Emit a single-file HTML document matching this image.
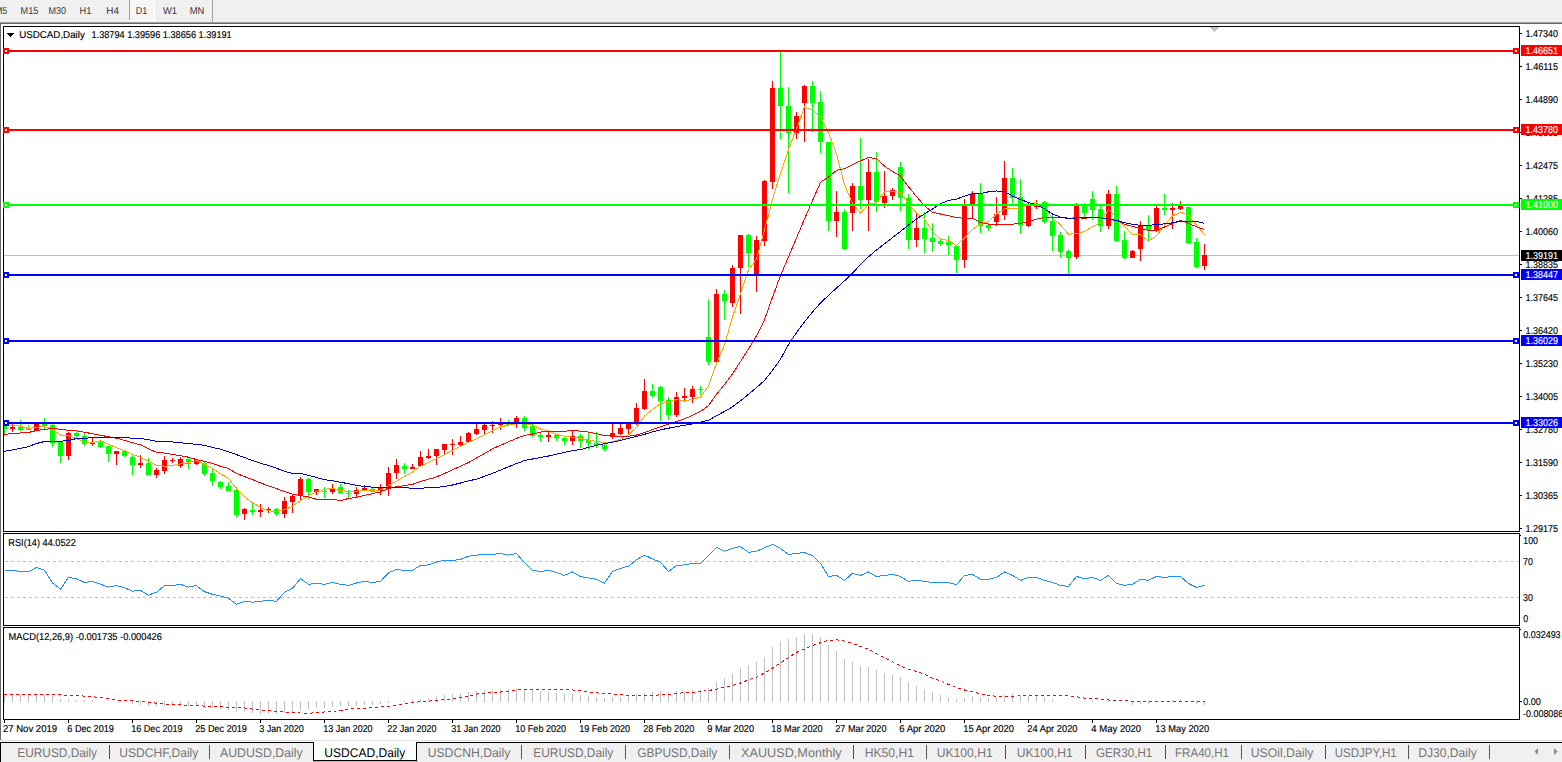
<!DOCTYPE html>
<html><head><meta charset="utf-8"><title>USDCAD,Daily</title>
<style>
html,body{margin:0;padding:0;background:#fff;overflow:hidden}
svg{display:block}
text{font-family:"Liberation Sans",sans-serif;white-space:pre;text-rendering:geometricPrecision}
</style></head><body>
<svg width="1562" height="762" viewBox="0 0 1562 762">
<rect x="0" y="0" width="1562" height="762" fill="#fff"/>
<rect x="0" y="0" width="1562" height="22" fill="#f0f0f0"/>
<rect x="0" y="22" width="1562" height="1" fill="#a0a0a0"/>
<rect x="0" y="23" width="1562" height="1" fill="#696969"/>
<pattern id="ck" width="2" height="2" patternUnits="userSpaceOnUse"><rect width="2" height="2" fill="#f0f0f0"/><rect width="1" height="1" fill="#fff"/><rect x="1" y="1" width="1" height="1" fill="#fff"/></pattern>
<rect x="130" y="0" width="24" height="20" fill="url(#ck)"/>
<rect x="129" y="0" width="1" height="20" fill="#a0a0a0"/>
<rect x="154" y="0" width="1" height="21" fill="#fff"/>
<rect x="130" y="20" width="25" height="1" fill="#fff"/>
<rect x="212" y="0" width="1" height="22" fill="#a0a0a0"/>
<text x="-5" y="14" font-size="10" fill="#333" textLength="12.3" lengthAdjust="spacingAndGlyphs">M5</text>
<text x="20.6" y="14" font-size="10" fill="#333" textLength="17.7" lengthAdjust="spacingAndGlyphs">M15</text>
<text x="48.6" y="14" font-size="10" fill="#333" textLength="17.5" lengthAdjust="spacingAndGlyphs">M30</text>
<text x="79.5" y="14" font-size="10" fill="#333" textLength="11.8" lengthAdjust="spacingAndGlyphs">H1</text>
<text x="106.3" y="14" font-size="10" fill="#333" textLength="12.7" lengthAdjust="spacingAndGlyphs">H4</text>
<text x="135.8" y="14" font-size="10" fill="#333" textLength="11.5" lengthAdjust="spacingAndGlyphs">D1</text>
<text x="163" y="14" font-size="10" fill="#333" textLength="14" lengthAdjust="spacingAndGlyphs">W1</text>
<text x="189.8" y="14" font-size="10" fill="#333" textLength="14.6" lengthAdjust="spacingAndGlyphs">MN</text>
<rect x="0" y="24" width="1" height="717" fill="#696969"/>
<rect x="0" y="740" width="1562" height="1" fill="#e3e3e3"/>
<rect x="0" y="742" width="1562" height="20" fill="#f0f0f0"/>
<rect x="0" y="742" width="1562" height="1" fill="#000"/>
<rect x="0" y="742" width="1" height="20" fill="#000"/>
<rect x="313" y="742" width="104" height="19" fill="#fff"/>
<rect x="313" y="742" width="1" height="19" fill="#000"/>
<rect x="416" y="742" width="1" height="19" fill="#000"/>
<rect x="313" y="760" width="104" height="1" fill="#000"/>
<rect x="313" y="761" width="105" height="1" fill="#b4b4b4"/>
<rect x="314" y="742" width="102" height="1" fill="#fff"/>
<text x="17.3" y="757" font-size="12.6" fill="#747474" textLength="79.7" lengthAdjust="spacingAndGlyphs">EURUSD,Daily</text>
<text x="119.3" y="757" font-size="12.6" fill="#747474" textLength="79.0" lengthAdjust="spacingAndGlyphs">USDCHF,Daily</text>
<text x="220" y="757" font-size="12.6" fill="#747474" textLength="82.7" lengthAdjust="spacingAndGlyphs">AUDUSD,Daily</text>
<text x="324.3" y="757" font-size="12.6" fill="#000" textLength="81.0" lengthAdjust="spacingAndGlyphs">USDCAD,Daily</text>
<text x="427.7" y="757" font-size="12.6" fill="#747474" textLength="82.6" lengthAdjust="spacingAndGlyphs">USDCNH,Daily</text>
<text x="533.3" y="757" font-size="12.6" fill="#747474" textLength="80.0" lengthAdjust="spacingAndGlyphs">EURUSD,Daily</text>
<text x="637.3" y="757" font-size="12.6" fill="#747474" textLength="80.0" lengthAdjust="spacingAndGlyphs">GBPUSD,Daily</text>
<text x="741" y="757" font-size="12.6" fill="#747474" textLength="100.7" lengthAdjust="spacingAndGlyphs">XAUUSD,Monthly</text>
<text x="864.7" y="757" font-size="12.6" fill="#747474" textLength="49.3" lengthAdjust="spacingAndGlyphs">HK50,H1</text>
<text x="936.7" y="757" font-size="12.6" fill="#747474" textLength="56.0" lengthAdjust="spacingAndGlyphs">UK100,H1</text>
<text x="1016.7" y="757" font-size="12.6" fill="#747474" textLength="56.0" lengthAdjust="spacingAndGlyphs">UK100,H1</text>
<text x="1096" y="757" font-size="12.6" fill="#747474" textLength="56.3" lengthAdjust="spacingAndGlyphs">GER30,H1</text>
<text x="1175" y="757" font-size="12.6" fill="#747474" textLength="54" lengthAdjust="spacingAndGlyphs">FRA40,H1</text>
<text x="1250.7" y="757" font-size="12.6" fill="#747474" textLength="62.6" lengthAdjust="spacingAndGlyphs">USOil,Daily</text>
<text x="1334.7" y="757" font-size="12.6" fill="#747474" textLength="62.0" lengthAdjust="spacingAndGlyphs">USDJPY,H1</text>
<text x="1418.3" y="757" font-size="12.6" fill="#747474" textLength="58.4" lengthAdjust="spacingAndGlyphs">DJ30,Daily</text>
<rect x="109" y="745" width="1" height="14" fill="#555"/>
<rect x="209" y="745" width="1" height="14" fill="#555"/>
<rect x="521" y="745" width="1" height="14" fill="#555"/>
<rect x="625" y="745" width="1" height="14" fill="#555"/>
<rect x="729" y="745" width="1" height="14" fill="#555"/>
<rect x="853" y="745" width="1" height="14" fill="#555"/>
<rect x="926" y="745" width="1" height="14" fill="#555"/>
<rect x="1005" y="745" width="1" height="14" fill="#555"/>
<rect x="1085" y="745" width="1" height="14" fill="#555"/>
<rect x="1165" y="745" width="1" height="14" fill="#555"/>
<rect x="1241" y="745" width="1" height="14" fill="#555"/>
<rect x="1325" y="745" width="1" height="14" fill="#555"/>
<rect x="1408" y="745" width="1" height="14" fill="#555"/>
<rect x="1489" y="745" width="1" height="14" fill="#555"/>
<path d="M1534.5 751.5 L1538 748 L1538 755 Z" fill="#8a8a8a"/>
<path d="M1557.5 751.5 L1554 748 L1554 755 Z" fill="#8a8a8a"/>
<g shape-rendering="crispEdges">
<rect x="4" y="255" width="1515" height="1" fill="#c0c0c0"/>
<line x1="5" y1="561.5" x2="1519" y2="561.5" stroke="#c0c0c0" stroke-width="1" stroke-dasharray="3 3"/>
<line x1="5" y1="597.5" x2="1519" y2="597.5" stroke="#c0c0c0" stroke-width="1" stroke-dasharray="3 3"/>
<clipPath id="cm"><rect x="4" y="27" width="1515" height="504"/></clipPath><g clip-path="url(#cm)">
<rect x="4" y="421" width="1" height="15" fill="#00ff00"/>
<rect x="2" y="423" width="5" height="6" fill="#00ff00"/>
<rect x="12" y="424" width="1" height="8" fill="#ff0000"/>
<rect x="10" y="427" width="5" height="2" fill="#ff0000"/>
<rect x="20" y="420" width="1" height="11" fill="#00ff00"/>
<rect x="18" y="427" width="5" height="3" fill="#00ff00"/>
<rect x="28" y="425" width="1" height="5" fill="#00ff00"/>
<rect x="26" y="429" width="5" height="1" fill="#00ff00"/>
<rect x="36" y="422" width="1" height="9" fill="#ff0000"/>
<rect x="34" y="424" width="5" height="7" fill="#ff0000"/>
<rect x="44" y="418" width="1" height="11" fill="#00ff00"/>
<rect x="42" y="424" width="5" height="2" fill="#00ff00"/>
<rect x="52" y="424" width="1" height="23" fill="#00ff00"/>
<rect x="50" y="425" width="5" height="18" fill="#00ff00"/>
<rect x="60" y="442" width="1" height="21" fill="#00ff00"/>
<rect x="58" y="442" width="5" height="14" fill="#00ff00"/>
<rect x="68" y="432" width="1" height="28" fill="#ff0000"/>
<rect x="66" y="433" width="5" height="23" fill="#ff0000"/>
<rect x="76" y="432" width="1" height="5" fill="#00ff00"/>
<rect x="74" y="433" width="5" height="3" fill="#00ff00"/>
<rect x="84" y="433" width="1" height="13" fill="#00ff00"/>
<rect x="82" y="436" width="5" height="8" fill="#00ff00"/>
<rect x="92" y="438" width="1" height="8" fill="#ff0000"/>
<rect x="90" y="442" width="5" height="2" fill="#ff0000"/>
<rect x="100" y="441" width="1" height="7" fill="#00ff00"/>
<rect x="98" y="442" width="5" height="5" fill="#00ff00"/>
<rect x="108" y="446" width="1" height="16" fill="#00ff00"/>
<rect x="106" y="446" width="5" height="8" fill="#00ff00"/>
<rect x="116" y="451" width="1" height="14" fill="#ff0000"/>
<rect x="114" y="451" width="5" height="3" fill="#ff0000"/>
<rect x="124" y="450" width="1" height="7" fill="#00ff00"/>
<rect x="122" y="451" width="5" height="5" fill="#00ff00"/>
<rect x="132" y="455" width="1" height="20" fill="#00ff00"/>
<rect x="130" y="457" width="5" height="8" fill="#00ff00"/>
<rect x="140" y="455" width="1" height="13" fill="#ff0000"/>
<rect x="138" y="463" width="5" height="2" fill="#ff0000"/>
<rect x="148" y="458" width="1" height="17" fill="#00ff00"/>
<rect x="146" y="463" width="5" height="12" fill="#00ff00"/>
<rect x="156" y="468" width="1" height="10" fill="#ff0000"/>
<rect x="154" y="470" width="5" height="5" fill="#ff0000"/>
<rect x="164" y="456" width="1" height="18" fill="#ff0000"/>
<rect x="162" y="460" width="5" height="11" fill="#ff0000"/>
<rect x="172" y="458" width="1" height="5" fill="#ff0000"/>
<rect x="170" y="460" width="5" height="1" fill="#ff0000"/>
<rect x="180" y="457" width="1" height="11" fill="#ff0000"/>
<rect x="178" y="459" width="5" height="7" fill="#ff0000"/>
<rect x="188" y="458" width="1" height="11" fill="#00ff00"/>
<rect x="186" y="459" width="5" height="5" fill="#00ff00"/>
<rect x="196" y="459" width="1" height="6" fill="#ff0000"/>
<rect x="194" y="460" width="5" height="4" fill="#ff0000"/>
<rect x="204" y="462" width="1" height="14" fill="#00ff00"/>
<rect x="202" y="463" width="5" height="11" fill="#00ff00"/>
<rect x="212" y="469" width="1" height="17" fill="#00ff00"/>
<rect x="210" y="473" width="5" height="8" fill="#00ff00"/>
<rect x="220" y="481" width="1" height="8" fill="#00ff00"/>
<rect x="218" y="482" width="5" height="5" fill="#00ff00"/>
<rect x="228" y="482" width="1" height="9" fill="#00ff00"/>
<rect x="226" y="486" width="5" height="5" fill="#00ff00"/>
<rect x="236" y="487" width="1" height="30" fill="#00ff00"/>
<rect x="234" y="490" width="5" height="25" fill="#00ff00"/>
<rect x="244" y="508" width="1" height="12" fill="#ff0000"/>
<rect x="242" y="509" width="5" height="5" fill="#ff0000"/>
<rect x="252" y="503" width="1" height="12" fill="#00ff00"/>
<rect x="250" y="510" width="5" height="2" fill="#00ff00"/>
<rect x="260" y="504" width="1" height="13" fill="#ff0000"/>
<rect x="258" y="510" width="5" height="2" fill="#ff0000"/>
<rect x="268" y="507" width="1" height="6" fill="#ff0000"/>
<rect x="266" y="509" width="5" height="2" fill="#ff0000"/>
<rect x="276" y="508" width="1" height="8" fill="#00ff00"/>
<rect x="274" y="509" width="5" height="5" fill="#00ff00"/>
<rect x="284" y="497" width="1" height="21" fill="#ff0000"/>
<rect x="282" y="501" width="5" height="13" fill="#ff0000"/>
<rect x="292" y="494" width="1" height="19" fill="#ff0000"/>
<rect x="290" y="496" width="5" height="6" fill="#ff0000"/>
<rect x="300" y="477" width="1" height="23" fill="#ff0000"/>
<rect x="298" y="479" width="5" height="17" fill="#ff0000"/>
<rect x="308" y="478" width="1" height="21" fill="#00ff00"/>
<rect x="306" y="479" width="5" height="13" fill="#00ff00"/>
<rect x="316" y="489" width="1" height="6" fill="#ff0000"/>
<rect x="314" y="489" width="5" height="3" fill="#ff0000"/>
<rect x="324" y="487" width="1" height="11" fill="#00ff00"/>
<rect x="322" y="491" width="5" height="1" fill="#00ff00"/>
<rect x="332" y="484" width="1" height="10" fill="#ff0000"/>
<rect x="330" y="488" width="5" height="4" fill="#ff0000"/>
<rect x="340" y="484" width="1" height="10" fill="#00ff00"/>
<rect x="338" y="487" width="5" height="6" fill="#00ff00"/>
<rect x="348" y="490" width="1" height="8" fill="#00ff00"/>
<rect x="346" y="493" width="5" height="1" fill="#00ff00"/>
<rect x="356" y="487" width="1" height="10" fill="#ff0000"/>
<rect x="354" y="490" width="5" height="4" fill="#ff0000"/>
<rect x="364" y="485" width="1" height="5" fill="#ff0000"/>
<rect x="362" y="488" width="5" height="2" fill="#ff0000"/>
<rect x="372" y="487" width="1" height="4" fill="#00ff00"/>
<rect x="370" y="489" width="5" height="3" fill="#00ff00"/>
<rect x="380" y="484" width="1" height="11" fill="#ff0000"/>
<rect x="378" y="488" width="5" height="3" fill="#ff0000"/>
<rect x="388" y="467" width="1" height="29" fill="#ff0000"/>
<rect x="386" y="473" width="5" height="16" fill="#ff0000"/>
<rect x="396" y="459" width="1" height="20" fill="#ff0000"/>
<rect x="394" y="465" width="5" height="8" fill="#ff0000"/>
<rect x="404" y="463" width="1" height="11" fill="#00ff00"/>
<rect x="402" y="466" width="5" height="3" fill="#00ff00"/>
<rect x="412" y="464" width="1" height="5" fill="#ff0000"/>
<rect x="410" y="467" width="5" height="2" fill="#ff0000"/>
<rect x="420" y="451" width="1" height="15" fill="#ff0000"/>
<rect x="418" y="457" width="5" height="9" fill="#ff0000"/>
<rect x="428" y="449" width="1" height="10" fill="#ff0000"/>
<rect x="426" y="456" width="5" height="2" fill="#ff0000"/>
<rect x="436" y="449" width="1" height="16" fill="#ff0000"/>
<rect x="434" y="449" width="5" height="7" fill="#ff0000"/>
<rect x="444" y="444" width="1" height="10" fill="#ff0000"/>
<rect x="442" y="444" width="5" height="6" fill="#ff0000"/>
<rect x="452" y="439" width="1" height="16" fill="#ff0000"/>
<rect x="450" y="444" width="5" height="1" fill="#ff0000"/>
<rect x="460" y="436" width="1" height="11" fill="#ff0000"/>
<rect x="458" y="442" width="5" height="3" fill="#ff0000"/>
<rect x="468" y="432" width="1" height="11" fill="#ff0000"/>
<rect x="466" y="433" width="5" height="9" fill="#ff0000"/>
<rect x="476" y="424" width="1" height="11" fill="#ff0000"/>
<rect x="474" y="429" width="5" height="5" fill="#ff0000"/>
<rect x="484" y="424" width="1" height="11" fill="#ff0000"/>
<rect x="482" y="425" width="5" height="5" fill="#ff0000"/>
<rect x="492" y="421" width="1" height="12" fill="#ff0000"/>
<rect x="490" y="425" width="5" height="1" fill="#ff0000"/>
<rect x="500" y="418" width="1" height="12" fill="#ff0000"/>
<rect x="498" y="424" width="5" height="1" fill="#ff0000"/>
<rect x="508" y="420" width="1" height="5" fill="#00ff00"/>
<rect x="506" y="423" width="5" height="2" fill="#00ff00"/>
<rect x="516" y="416" width="1" height="12" fill="#ff0000"/>
<rect x="514" y="418" width="5" height="6" fill="#ff0000"/>
<rect x="524" y="416" width="1" height="15" fill="#00ff00"/>
<rect x="522" y="418" width="5" height="10" fill="#00ff00"/>
<rect x="532" y="424" width="1" height="13" fill="#00ff00"/>
<rect x="530" y="426" width="5" height="10" fill="#00ff00"/>
<rect x="540" y="433" width="1" height="9" fill="#00ff00"/>
<rect x="538" y="435" width="5" height="2" fill="#00ff00"/>
<rect x="548" y="431" width="1" height="11" fill="#ff0000"/>
<rect x="546" y="435" width="5" height="2" fill="#ff0000"/>
<rect x="556" y="434" width="1" height="7" fill="#00ff00"/>
<rect x="554" y="435" width="5" height="3" fill="#00ff00"/>
<rect x="564" y="437" width="1" height="8" fill="#00ff00"/>
<rect x="562" y="438" width="5" height="3" fill="#00ff00"/>
<rect x="572" y="430" width="1" height="15" fill="#ff0000"/>
<rect x="570" y="436" width="5" height="5" fill="#ff0000"/>
<rect x="580" y="434" width="1" height="14" fill="#00ff00"/>
<rect x="578" y="436" width="5" height="5" fill="#00ff00"/>
<rect x="588" y="433" width="1" height="16" fill="#00ff00"/>
<rect x="586" y="440" width="5" height="3" fill="#00ff00"/>
<rect x="596" y="432" width="1" height="16" fill="#00ff00"/>
<rect x="594" y="443" width="5" height="2" fill="#00ff00"/>
<rect x="604" y="444" width="1" height="7" fill="#00ff00"/>
<rect x="602" y="445" width="5" height="4" fill="#00ff00"/>
<rect x="612" y="424" width="1" height="15" fill="#ff0000"/>
<rect x="610" y="433" width="5" height="4" fill="#ff0000"/>
<rect x="620" y="424" width="1" height="11" fill="#ff0000"/>
<rect x="618" y="428" width="5" height="6" fill="#ff0000"/>
<rect x="628" y="424" width="1" height="10" fill="#ff0000"/>
<rect x="626" y="424" width="5" height="5" fill="#ff0000"/>
<rect x="636" y="403" width="1" height="22" fill="#ff0000"/>
<rect x="634" y="408" width="5" height="15" fill="#ff0000"/>
<rect x="644" y="379" width="1" height="31" fill="#ff0000"/>
<rect x="642" y="391" width="5" height="18" fill="#ff0000"/>
<rect x="652" y="384" width="1" height="14" fill="#00ff00"/>
<rect x="650" y="391" width="5" height="5" fill="#00ff00"/>
<rect x="660" y="386" width="1" height="35" fill="#00ff00"/>
<rect x="658" y="387" width="5" height="14" fill="#00ff00"/>
<rect x="668" y="397" width="1" height="23" fill="#00ff00"/>
<rect x="666" y="400" width="5" height="15" fill="#00ff00"/>
<rect x="676" y="392" width="1" height="25" fill="#ff0000"/>
<rect x="674" y="397" width="5" height="18" fill="#ff0000"/>
<rect x="684" y="388" width="1" height="14" fill="#ff0000"/>
<rect x="682" y="396" width="5" height="2" fill="#ff0000"/>
<rect x="692" y="386" width="1" height="17" fill="#ff0000"/>
<rect x="690" y="389" width="5" height="8" fill="#ff0000"/>
<rect x="700" y="386" width="1" height="9" fill="#00ff00"/>
<rect x="698" y="389" width="5" height="1" fill="#00ff00"/>
<rect x="708" y="299" width="1" height="66" fill="#00ff00"/>
<rect x="706" y="337" width="5" height="25" fill="#00ff00"/>
<rect x="716" y="289" width="1" height="73" fill="#ff0000"/>
<rect x="714" y="294" width="5" height="68" fill="#ff0000"/>
<rect x="724" y="290" width="1" height="30" fill="#00ff00"/>
<rect x="722" y="294" width="5" height="7" fill="#00ff00"/>
<rect x="732" y="265" width="1" height="42" fill="#ff0000"/>
<rect x="730" y="268" width="5" height="35" fill="#ff0000"/>
<rect x="740" y="235" width="1" height="79" fill="#ff0000"/>
<rect x="738" y="235" width="5" height="33" fill="#ff0000"/>
<rect x="748" y="234" width="1" height="33" fill="#00ff00"/>
<rect x="746" y="235" width="5" height="18" fill="#00ff00"/>
<rect x="756" y="236" width="1" height="56" fill="#ff0000"/>
<rect x="754" y="240" width="5" height="34" fill="#ff0000"/>
<rect x="764" y="180" width="1" height="66" fill="#ff0000"/>
<rect x="762" y="181" width="5" height="60" fill="#ff0000"/>
<rect x="772" y="81" width="1" height="108" fill="#ff0000"/>
<rect x="770" y="88" width="5" height="94" fill="#ff0000"/>
<rect x="780" y="52" width="1" height="87" fill="#00ff00"/>
<rect x="778" y="88" width="5" height="18" fill="#00ff00"/>
<rect x="788" y="87" width="1" height="106" fill="#00ff00"/>
<rect x="786" y="106" width="5" height="27" fill="#00ff00"/>
<rect x="796" y="112" width="1" height="27" fill="#ff0000"/>
<rect x="794" y="116" width="5" height="17" fill="#ff0000"/>
<rect x="804" y="85" width="1" height="57" fill="#ff0000"/>
<rect x="802" y="86" width="5" height="17" fill="#ff0000"/>
<rect x="812" y="81" width="1" height="51" fill="#00ff00"/>
<rect x="810" y="86" width="5" height="17" fill="#00ff00"/>
<rect x="820" y="91" width="1" height="62" fill="#00ff00"/>
<rect x="818" y="102" width="5" height="40" fill="#00ff00"/>
<rect x="828" y="142" width="1" height="89" fill="#00ff00"/>
<rect x="826" y="142" width="5" height="79" fill="#00ff00"/>
<rect x="836" y="191" width="1" height="46" fill="#ff0000"/>
<rect x="834" y="212" width="5" height="9" fill="#ff0000"/>
<rect x="844" y="209" width="1" height="41" fill="#00ff00"/>
<rect x="842" y="212" width="5" height="37" fill="#00ff00"/>
<rect x="852" y="183" width="1" height="48" fill="#ff0000"/>
<rect x="850" y="186" width="5" height="27" fill="#ff0000"/>
<rect x="860" y="138" width="1" height="71" fill="#00ff00"/>
<rect x="858" y="186" width="5" height="14" fill="#00ff00"/>
<rect x="868" y="159" width="1" height="72" fill="#ff0000"/>
<rect x="866" y="172" width="5" height="28" fill="#ff0000"/>
<rect x="876" y="152" width="1" height="60" fill="#00ff00"/>
<rect x="874" y="172" width="5" height="30" fill="#00ff00"/>
<rect x="884" y="171" width="1" height="37" fill="#ff0000"/>
<rect x="882" y="196" width="5" height="7" fill="#ff0000"/>
<rect x="892" y="188" width="1" height="12" fill="#ff0000"/>
<rect x="890" y="190" width="5" height="6" fill="#ff0000"/>
<rect x="900" y="162" width="1" height="49" fill="#00ff00"/>
<rect x="898" y="167" width="5" height="31" fill="#00ff00"/>
<rect x="908" y="194" width="1" height="55" fill="#00ff00"/>
<rect x="906" y="198" width="5" height="42" fill="#00ff00"/>
<rect x="916" y="212" width="1" height="35" fill="#ff0000"/>
<rect x="914" y="228" width="5" height="12" fill="#ff0000"/>
<rect x="924" y="212" width="1" height="41" fill="#00ff00"/>
<rect x="922" y="228" width="5" height="11" fill="#00ff00"/>
<rect x="932" y="223" width="1" height="29" fill="#00ff00"/>
<rect x="930" y="238" width="5" height="4" fill="#00ff00"/>
<rect x="940" y="240" width="1" height="6" fill="#00ff00"/>
<rect x="938" y="241" width="5" height="3" fill="#00ff00"/>
<rect x="948" y="236" width="1" height="19" fill="#00ff00"/>
<rect x="946" y="242" width="5" height="3" fill="#00ff00"/>
<rect x="956" y="245" width="1" height="28" fill="#00ff00"/>
<rect x="954" y="246" width="5" height="14" fill="#00ff00"/>
<rect x="964" y="199" width="1" height="69" fill="#ff0000"/>
<rect x="962" y="205" width="5" height="55" fill="#ff0000"/>
<rect x="972" y="191" width="1" height="28" fill="#ff0000"/>
<rect x="970" y="194" width="5" height="11" fill="#ff0000"/>
<rect x="980" y="183" width="1" height="50" fill="#00ff00"/>
<rect x="978" y="194" width="5" height="32" fill="#00ff00"/>
<rect x="988" y="223" width="1" height="8" fill="#00ff00"/>
<rect x="986" y="225" width="5" height="3" fill="#00ff00"/>
<rect x="996" y="197" width="1" height="28" fill="#ff0000"/>
<rect x="994" y="214" width="5" height="8" fill="#ff0000"/>
<rect x="1004" y="161" width="1" height="59" fill="#ff0000"/>
<rect x="1002" y="178" width="5" height="37" fill="#ff0000"/>
<rect x="1012" y="168" width="1" height="35" fill="#00ff00"/>
<rect x="1010" y="178" width="5" height="20" fill="#00ff00"/>
<rect x="1020" y="179" width="1" height="55" fill="#00ff00"/>
<rect x="1018" y="197" width="5" height="28" fill="#00ff00"/>
<rect x="1028" y="202" width="1" height="25" fill="#ff0000"/>
<rect x="1026" y="205" width="5" height="21" fill="#ff0000"/>
<rect x="1036" y="200" width="1" height="9" fill="#ff0000"/>
<rect x="1034" y="204" width="5" height="3" fill="#ff0000"/>
<rect x="1044" y="201" width="1" height="23" fill="#00ff00"/>
<rect x="1042" y="202" width="5" height="20" fill="#00ff00"/>
<rect x="1052" y="214" width="1" height="37" fill="#00ff00"/>
<rect x="1050" y="221" width="5" height="15" fill="#00ff00"/>
<rect x="1060" y="232" width="1" height="26" fill="#00ff00"/>
<rect x="1058" y="235" width="5" height="17" fill="#00ff00"/>
<rect x="1068" y="249" width="1" height="25" fill="#00ff00"/>
<rect x="1066" y="251" width="5" height="7" fill="#00ff00"/>
<rect x="1076" y="203" width="1" height="56" fill="#ff0000"/>
<rect x="1074" y="205" width="5" height="52" fill="#ff0000"/>
<rect x="1084" y="203" width="1" height="14" fill="#00ff00"/>
<rect x="1082" y="205" width="5" height="8" fill="#00ff00"/>
<rect x="1092" y="191" width="1" height="29" fill="#00ff00"/>
<rect x="1090" y="199" width="5" height="11" fill="#00ff00"/>
<rect x="1100" y="206" width="1" height="26" fill="#00ff00"/>
<rect x="1098" y="209" width="5" height="17" fill="#00ff00"/>
<rect x="1108" y="190" width="1" height="39" fill="#ff0000"/>
<rect x="1106" y="194" width="5" height="32" fill="#ff0000"/>
<rect x="1116" y="186" width="1" height="56" fill="#00ff00"/>
<rect x="1114" y="194" width="5" height="47" fill="#00ff00"/>
<rect x="1124" y="231" width="1" height="28" fill="#00ff00"/>
<rect x="1122" y="240" width="5" height="18" fill="#00ff00"/>
<rect x="1132" y="250" width="1" height="8" fill="#ff0000"/>
<rect x="1130" y="251" width="5" height="7" fill="#ff0000"/>
<rect x="1140" y="221" width="1" height="40" fill="#ff0000"/>
<rect x="1138" y="225" width="5" height="24" fill="#ff0000"/>
<rect x="1148" y="215" width="1" height="27" fill="#00ff00"/>
<rect x="1146" y="225" width="5" height="5" fill="#00ff00"/>
<rect x="1156" y="206" width="1" height="26" fill="#ff0000"/>
<rect x="1154" y="208" width="5" height="23" fill="#ff0000"/>
<rect x="1164" y="194" width="1" height="21" fill="#00ff00"/>
<rect x="1162" y="208" width="5" height="2" fill="#00ff00"/>
<rect x="1172" y="203" width="1" height="26" fill="#ff0000"/>
<rect x="1170" y="208" width="5" height="2" fill="#ff0000"/>
<rect x="1180" y="201" width="1" height="9" fill="#ff0000"/>
<rect x="1178" y="206" width="5" height="3" fill="#ff0000"/>
<rect x="1188" y="207" width="1" height="37" fill="#00ff00"/>
<rect x="1186" y="207" width="5" height="36" fill="#00ff00"/>
<rect x="1196" y="238" width="1" height="30" fill="#00ff00"/>
<rect x="1194" y="242" width="5" height="25" fill="#00ff00"/>
<rect x="1204" y="244" width="1" height="26" fill="#ff0000"/>
<rect x="1202" y="255" width="5" height="11" fill="#ff0000"/>
<polyline points="3.0,425.4 4.5,425.4 12.5,425.4 20.5,426.2 28.5,428.6 36.5,427.3 44.5,426.5 52.5,429.4 60.5,435.1 68.5,435.6 76.5,438.7 84.5,442.0 92.5,442.8 100.5,440.6 108.5,444.3 116.5,447.7 124.5,450.4 132.5,454.4 140.5,457.1 148.5,461.4 156.5,465.3 164.5,466.2 172.5,465.5 180.5,463.9 188.5,462.5 196.5,460.6 204.5,464.0 212.5,468.2 220.5,473.9 228.5,478.2 236.5,488.7 244.5,496.7 252.5,502.7 260.5,507.4 268.5,510.9 276.5,511.3 284.5,509.7 292.5,506.3 300.5,500.5 308.5,496.0 316.5,491.5 324.5,489.3 332.5,488.3 340.5,490.6 348.5,491.4 356.5,491.2 364.5,490.3 372.5,490.8 380.5,490.0 388.5,485.6 396.5,481.2 404.5,476.6 412.5,472.0 420.5,466.1 428.5,462.1 436.5,458.7 444.5,454.7 452.5,450.3 460.5,446.3 468.5,442.4 476.5,438.7 484.5,434.7 492.5,430.7 500.5,427.0 508.5,425.0 516.5,423.8 524.5,423.8 532.5,425.1 540.5,429.0 548.5,430.8 556.5,434.5 564.5,436.1 572.5,437.3 580.5,438.3 588.5,440.2 596.5,441.4 604.5,442.6 612.5,441.9 620.5,439.1 628.5,434.8 636.5,427.5 644.5,416.1 652.5,409.5 660.5,403.6 668.5,402.2 676.5,399.3 684.5,400.8 692.5,399.3 700.5,397.1 708.5,386.2 716.5,363.2 724.5,345.2 732.5,317.0 740.5,293.6 748.5,270.0 756.5,259.0 764.5,229.9 772.5,199.4 780.5,173.1 788.5,149.6 796.5,129.0 804.5,107.0 812.5,109.8 820.5,117.0 828.5,133.0 836.5,153.9 844.5,184.9 852.5,203.2 860.5,213.0 868.5,204.2 876.5,202.7 884.5,191.7 892.5,191.8 900.5,192.2 908.5,203.8 916.5,213.2 924.5,218.9 932.5,231.7 940.5,239.1 948.5,240.4 956.5,245.5 964.5,238.0 972.5,229.3 980.5,224.2 988.5,221.6 996.5,214.0 1004.5,208.9 1012.5,208.5 1020.5,208.0 1028.5,204.3 1036.5,202.6 1044.5,208.9 1052.5,217.4 1060.5,225.1 1068.5,234.1 1076.5,233.8 1084.5,231.4 1092.5,226.7 1100.5,222.8 1108.5,209.5 1116.5,217.3 1124.5,226.7 1132.5,234.2 1140.5,234.6 1148.5,241.1 1156.5,235.8 1164.5,225.1 1172.5,216.0 1180.5,212.2 1188.5,215.6 1196.5,225.2 1204.5,234.6" fill="none" stroke="#ffa500" stroke-width="1"/>
<polyline points="3.0,434.5 4.5,434.4 12.5,433.4 20.5,433.0 28.5,432.5 36.5,430.5 44.5,429.4 52.5,428.4 60.5,429.3 68.5,430.3 76.5,431.0 84.5,432.2 92.5,433.8 100.5,435.3 108.5,436.7 116.5,438.2 124.5,440.3 132.5,442.6 140.5,444.9 148.5,448.9 156.5,452.3 164.5,453.1 172.5,454.4 180.5,455.7 188.5,457.2 196.5,459.6 204.5,461.4 212.5,463.4 220.5,466.4 228.5,468.5 236.5,473.4 244.5,476.6 252.5,479.6 260.5,482.9 268.5,485.8 276.5,488.6 284.5,491.6 292.5,494.3 300.5,495.5 308.5,496.9 316.5,499.3 324.5,499.3 332.5,499.3 340.5,500.6 348.5,498.5 356.5,497.3 364.5,495.4 372.5,493.7 380.5,491.8 388.5,488.4 396.5,486.8 404.5,485.6 412.5,484.4 420.5,481.4 428.5,479.3 436.5,476.8 444.5,473.5 452.5,469.8 460.5,466.3 468.5,462.5 476.5,458.1 484.5,453.4 492.5,448.8 500.5,445.3 508.5,441.8 516.5,438.4 524.5,435.5 532.5,434.0 540.5,432.1 548.5,431.3 556.5,431.3 564.5,431.3 572.5,430.2 580.5,431.2 588.5,432.1 596.5,433.6 604.5,435.6 612.5,435.7 620.5,436.6 628.5,436.3 636.5,435.0 644.5,432.5 652.5,429.6 660.5,426.8 668.5,424.3 676.5,421.4 684.5,418.8 692.5,415.4 700.5,411.4 708.5,405.5 716.5,394.2 724.5,384.5 732.5,373.9 740.5,361.5 748.5,348.9 756.5,335.7 764.5,319.7 772.5,297.2 780.5,275.6 788.5,256.9 796.5,238.0 804.5,219.0 812.5,200.7 820.5,182.2 828.5,177.0 836.5,170.4 844.5,168.7 852.5,164.9 860.5,160.9 868.5,157.4 876.5,158.7 884.5,166.1 892.5,171.5 900.5,176.0 908.5,186.8 916.5,196.5 924.5,205.8 932.5,212.2 940.5,214.0 948.5,215.7 956.5,217.7 964.5,218.3 972.5,218.3 980.5,222.5 988.5,224.2 996.5,225.1 1004.5,224.2 1012.5,224.2 1020.5,223.4 1028.5,221.7 1036.5,219.1 1044.5,217.4 1052.5,217.4 1060.5,217.4 1068.5,218.6 1076.5,217.6 1084.5,218.3 1092.5,217.2 1100.5,217.6 1108.5,219.6 1116.5,220.4 1124.5,224.3 1132.5,226.4 1140.5,228.6 1148.5,230.3 1156.5,230.3 1164.5,227.0 1172.5,223.6 1180.5,220.4 1188.5,223.5 1196.5,226.7 1204.5,229.5" fill="none" stroke="#ff0000" stroke-width="1"/>
<polyline points="3.0,451.6 4.5,451.3 12.5,449.9 20.5,448.3 28.5,446.6 36.5,443.5 44.5,441.5 52.5,441.3 60.5,441.3 68.5,440.5 76.5,438.5 84.5,438.6 92.5,437.3 100.5,437.3 108.5,437.3 116.5,437.3 124.5,437.3 132.5,438.4 140.5,438.4 148.5,439.8 156.5,441.3 164.5,441.3 172.5,441.9 180.5,442.8 188.5,443.6 196.5,444.3 204.5,445.4 212.5,447.4 220.5,449.2 228.5,451.8 236.5,454.6 244.5,457.6 252.5,460.5 260.5,463.3 268.5,465.5 276.5,468.2 284.5,471.3 292.5,473.3 300.5,473.5 308.5,475.3 316.5,477.5 324.5,479.6 332.5,480.8 340.5,482.2 348.5,483.8 356.5,485.3 364.5,486.6 372.5,487.1 380.5,487.5 388.5,487.5 396.5,487.5 404.5,487.5 412.5,488.5 420.5,488.5 428.5,487.5 436.5,487.5 444.5,486.4 452.5,485.0 460.5,483.0 468.5,480.9 476.5,479.1 484.5,476.3 492.5,473.3 500.5,470.1 508.5,466.8 516.5,463.5 524.5,460.6 532.5,459.0 540.5,457.6 548.5,456.0 556.5,454.2 564.5,452.4 572.5,450.6 580.5,449.6 588.5,447.4 596.5,445.3 604.5,443.6 612.5,442.1 620.5,440.5 628.5,438.3 636.5,436.3 644.5,434.3 652.5,431.9 660.5,429.8 668.5,428.2 676.5,426.7 684.5,425.3 692.5,423.9 700.5,422.2 708.5,420.2 716.5,415.8 724.5,411.4 732.5,406.8 740.5,400.8 748.5,394.3 756.5,387.6 764.5,380.5 772.5,370.2 780.5,359.3 788.5,344.5 796.5,332.7 804.5,321.9 812.5,312.0 820.5,303.0 828.5,295.4 836.5,288.1 844.5,280.8 852.5,273.2 860.5,264.4 868.5,256.8 876.5,250.0 884.5,243.8 892.5,237.6 900.5,231.4 908.5,225.0 916.5,219.1 924.5,213.8 932.5,209.0 940.5,203.8 948.5,200.4 956.5,199.2 964.5,196.1 972.5,193.5 980.5,193.5 988.5,191.8 996.5,191.0 1004.5,191.3 1012.5,196.1 1020.5,199.5 1028.5,202.5 1036.5,204.7 1044.5,208.9 1052.5,214.0 1060.5,217.1 1068.5,218.3 1076.5,218.0 1084.5,217.2 1092.5,217.2 1100.5,218.0 1108.5,219.1 1116.5,220.4 1124.5,222.8 1132.5,224.3 1140.5,225.4 1148.5,225.4 1156.5,224.6 1164.5,223.9 1172.5,222.8 1180.5,221.2 1188.5,221.2 1196.5,221.2 1204.5,223.5" fill="none" stroke="#0000c8" stroke-width="1"/>
</g>
<polyline points="4.5,570.4 12.5,570.4 20.5,571.5 28.5,572.0 36.5,567.5 44.5,570.2 52.5,583.0 60.5,589.1 68.5,577.5 76.5,578.6 84.5,582.5 92.5,581.4 100.5,584.3 108.5,587.2 116.5,585.6 124.5,587.7 132.5,591.2 140.5,590.4 148.5,595.1 156.5,592.2 164.5,585.6 172.5,585.6 180.5,584.3 188.5,587.2 196.5,585.6 204.5,591.7 212.5,594.3 220.5,596.1 228.5,598.2 236.5,604.3 244.5,601.4 252.5,602.2 260.5,601.4 268.5,600.3 276.5,601.4 284.5,592.2 292.5,588.3 300.5,578.6 308.5,584.3 316.5,583.3 324.5,584.3 332.5,582.5 340.5,584.3 348.5,585.4 356.5,583.0 364.5,581.4 372.5,582.5 380.5,581.4 388.5,572.8 396.5,569.4 404.5,570.4 412.5,570.4 420.5,565.4 428.5,564.9 436.5,562.0 444.5,560.4 452.5,560.4 460.5,559.4 468.5,556.2 476.5,555.2 484.5,554.4 492.5,554.4 500.5,553.4 508.5,555.2 516.5,553.4 524.5,562.8 532.5,570.4 540.5,571.5 548.5,570.4 556.5,572.5 564.5,575.4 572.5,572.0 580.5,576.5 588.5,578.0 596.5,579.3 604.5,583.0 612.5,571.5 620.5,568.3 628.5,566.2 636.5,559.7 644.5,555.2 652.5,558.9 660.5,562.3 668.5,571.5 676.5,565.4 684.5,564.9 692.5,563.3 700.5,563.3 708.5,555.7 716.5,547.3 724.5,551.3 732.5,548.4 740.5,546.5 748.5,552.3 756.5,551.3 764.5,547.8 772.5,544.4 780.5,548.4 788.5,554.4 796.5,553.4 804.5,552.6 812.5,555.7 820.5,563.3 828.5,576.5 836.5,575.4 844.5,580.4 852.5,573.3 860.5,575.4 868.5,572.0 876.5,576.5 884.5,575.4 892.5,574.4 900.5,576.5 908.5,581.4 916.5,580.1 924.5,581.4 932.5,582.5 940.5,582.5 948.5,582.5 956.5,584.6 964.5,575.4 972.5,574.4 980.5,579.3 988.5,579.3 996.5,577.5 1004.5,572.0 1012.5,575.4 1020.5,580.4 1028.5,577.5 1036.5,577.5 1044.5,580.4 1052.5,582.5 1060.5,585.4 1068.5,586.4 1076.5,576.5 1084.5,578.6 1092.5,577.5 1100.5,580.4 1108.5,575.4 1116.5,583.5 1124.5,585.4 1132.5,584.3 1140.5,579.3 1148.5,580.4 1156.5,576.5 1164.5,577.5 1172.5,576.5 1180.5,576.5 1188.5,583.5 1196.5,587.5 1204.5,585.4" fill="none" stroke="#1e90ff" stroke-width="1"/>
<rect x="4" y="695" width="1" height="7" fill="#c0c0c0"/>
<rect x="12" y="695" width="1" height="7" fill="#c0c0c0"/>
<rect x="20" y="695" width="1" height="7" fill="#c0c0c0"/>
<rect x="28" y="695" width="1" height="7" fill="#c0c0c0"/>
<rect x="36" y="695" width="1" height="7" fill="#c0c0c0"/>
<rect x="44" y="695" width="1" height="7" fill="#c0c0c0"/>
<rect x="52" y="696" width="1" height="6" fill="#c0c0c0"/>
<rect x="60" y="699" width="1" height="3" fill="#c0c0c0"/>
<rect x="68" y="699" width="1" height="3" fill="#c0c0c0"/>
<rect x="76" y="700" width="1" height="2" fill="#c0c0c0"/>
<rect x="84" y="700" width="1" height="2" fill="#c0c0c0"/>
<rect x="92" y="700" width="1" height="2" fill="#c0c0c0"/>
<rect x="132" y="701" width="1" height="3" fill="#c0c0c0"/>
<rect x="140" y="701" width="1" height="4" fill="#c0c0c0"/>
<rect x="148" y="701" width="1" height="5" fill="#c0c0c0"/>
<rect x="156" y="701" width="1" height="5" fill="#c0c0c0"/>
<rect x="164" y="701" width="1" height="5" fill="#c0c0c0"/>
<rect x="172" y="701" width="1" height="5" fill="#c0c0c0"/>
<rect x="180" y="701" width="1" height="5" fill="#c0c0c0"/>
<rect x="188" y="701" width="1" height="5" fill="#c0c0c0"/>
<rect x="196" y="701" width="1" height="5" fill="#c0c0c0"/>
<rect x="204" y="701" width="1" height="6" fill="#c0c0c0"/>
<rect x="212" y="701" width="1" height="7" fill="#c0c0c0"/>
<rect x="220" y="701" width="1" height="8" fill="#c0c0c0"/>
<rect x="228" y="701" width="1" height="9" fill="#c0c0c0"/>
<rect x="236" y="701" width="1" height="11" fill="#c0c0c0"/>
<rect x="244" y="701" width="1" height="11" fill="#c0c0c0"/>
<rect x="252" y="701" width="1" height="12" fill="#c0c0c0"/>
<rect x="260" y="701" width="1" height="13" fill="#c0c0c0"/>
<rect x="268" y="701" width="1" height="13" fill="#c0c0c0"/>
<rect x="276" y="701" width="1" height="13" fill="#c0c0c0"/>
<rect x="284" y="701" width="1" height="12" fill="#c0c0c0"/>
<rect x="292" y="701" width="1" height="11" fill="#c0c0c0"/>
<rect x="300" y="701" width="1" height="9" fill="#c0c0c0"/>
<rect x="308" y="701" width="1" height="8" fill="#c0c0c0"/>
<rect x="316" y="701" width="1" height="7" fill="#c0c0c0"/>
<rect x="324" y="701" width="1" height="7" fill="#c0c0c0"/>
<rect x="332" y="701" width="1" height="6" fill="#c0c0c0"/>
<rect x="340" y="701" width="1" height="5" fill="#c0c0c0"/>
<rect x="348" y="701" width="1" height="5" fill="#c0c0c0"/>
<rect x="356" y="701" width="1" height="5" fill="#c0c0c0"/>
<rect x="364" y="701" width="1" height="4" fill="#c0c0c0"/>
<rect x="372" y="701" width="1" height="4" fill="#c0c0c0"/>
<rect x="380" y="701" width="1" height="3" fill="#c0c0c0"/>
<rect x="388" y="701" width="1" height="2" fill="#c0c0c0"/>
<rect x="404" y="701" width="1" height="1" fill="#c0c0c0"/>
<rect x="412" y="700" width="1" height="2" fill="#c0c0c0"/>
<rect x="420" y="699" width="1" height="3" fill="#c0c0c0"/>
<rect x="428" y="698" width="1" height="4" fill="#c0c0c0"/>
<rect x="436" y="696" width="1" height="6" fill="#c0c0c0"/>
<rect x="444" y="695" width="1" height="7" fill="#c0c0c0"/>
<rect x="452" y="694" width="1" height="8" fill="#c0c0c0"/>
<rect x="460" y="693" width="1" height="9" fill="#c0c0c0"/>
<rect x="468" y="692" width="1" height="10" fill="#c0c0c0"/>
<rect x="476" y="691" width="1" height="11" fill="#c0c0c0"/>
<rect x="484" y="690" width="1" height="12" fill="#c0c0c0"/>
<rect x="492" y="690" width="1" height="12" fill="#c0c0c0"/>
<rect x="500" y="689" width="1" height="13" fill="#c0c0c0"/>
<rect x="508" y="689" width="1" height="13" fill="#c0c0c0"/>
<rect x="516" y="688" width="1" height="14" fill="#c0c0c0"/>
<rect x="524" y="689" width="1" height="13" fill="#c0c0c0"/>
<rect x="532" y="690" width="1" height="12" fill="#c0c0c0"/>
<rect x="540" y="691" width="1" height="11" fill="#c0c0c0"/>
<rect x="548" y="692" width="1" height="10" fill="#c0c0c0"/>
<rect x="556" y="693" width="1" height="9" fill="#c0c0c0"/>
<rect x="564" y="694" width="1" height="8" fill="#c0c0c0"/>
<rect x="572" y="694" width="1" height="8" fill="#c0c0c0"/>
<rect x="580" y="695" width="1" height="7" fill="#c0c0c0"/>
<rect x="588" y="696" width="1" height="6" fill="#c0c0c0"/>
<rect x="596" y="697" width="1" height="5" fill="#c0c0c0"/>
<rect x="604" y="698" width="1" height="4" fill="#c0c0c0"/>
<rect x="612" y="697" width="1" height="5" fill="#c0c0c0"/>
<rect x="620" y="697" width="1" height="5" fill="#c0c0c0"/>
<rect x="628" y="696" width="1" height="6" fill="#c0c0c0"/>
<rect x="636" y="694" width="1" height="8" fill="#c0c0c0"/>
<rect x="644" y="693" width="1" height="9" fill="#c0c0c0"/>
<rect x="652" y="692" width="1" height="10" fill="#c0c0c0"/>
<rect x="660" y="691" width="1" height="11" fill="#c0c0c0"/>
<rect x="668" y="692" width="1" height="10" fill="#c0c0c0"/>
<rect x="676" y="691" width="1" height="11" fill="#c0c0c0"/>
<rect x="684" y="691" width="1" height="11" fill="#c0c0c0"/>
<rect x="692" y="690" width="1" height="12" fill="#c0c0c0"/>
<rect x="700" y="690" width="1" height="12" fill="#c0c0c0"/>
<rect x="708" y="688" width="1" height="14" fill="#c0c0c0"/>
<rect x="716" y="682" width="1" height="20" fill="#c0c0c0"/>
<rect x="724" y="678" width="1" height="24" fill="#c0c0c0"/>
<rect x="732" y="674" width="1" height="28" fill="#c0c0c0"/>
<rect x="740" y="668" width="1" height="34" fill="#c0c0c0"/>
<rect x="748" y="665" width="1" height="37" fill="#c0c0c0"/>
<rect x="756" y="662" width="1" height="40" fill="#c0c0c0"/>
<rect x="764" y="657" width="1" height="45" fill="#c0c0c0"/>
<rect x="772" y="647" width="1" height="55" fill="#c0c0c0"/>
<rect x="780" y="641" width="1" height="61" fill="#c0c0c0"/>
<rect x="788" y="639" width="1" height="63" fill="#c0c0c0"/>
<rect x="796" y="637" width="1" height="65" fill="#c0c0c0"/>
<rect x="804" y="634" width="1" height="68" fill="#c0c0c0"/>
<rect x="812" y="634" width="1" height="68" fill="#c0c0c0"/>
<rect x="820" y="637" width="1" height="65" fill="#c0c0c0"/>
<rect x="828" y="645" width="1" height="57" fill="#c0c0c0"/>
<rect x="836" y="651" width="1" height="51" fill="#c0c0c0"/>
<rect x="844" y="659" width="1" height="43" fill="#c0c0c0"/>
<rect x="852" y="662" width="1" height="40" fill="#c0c0c0"/>
<rect x="860" y="666" width="1" height="36" fill="#c0c0c0"/>
<rect x="868" y="667" width="1" height="35" fill="#c0c0c0"/>
<rect x="876" y="670" width="1" height="32" fill="#c0c0c0"/>
<rect x="884" y="673" width="1" height="29" fill="#c0c0c0"/>
<rect x="892" y="675" width="1" height="27" fill="#c0c0c0"/>
<rect x="900" y="677" width="1" height="25" fill="#c0c0c0"/>
<rect x="908" y="682" width="1" height="20" fill="#c0c0c0"/>
<rect x="916" y="686" width="1" height="16" fill="#c0c0c0"/>
<rect x="924" y="689" width="1" height="13" fill="#c0c0c0"/>
<rect x="932" y="692" width="1" height="10" fill="#c0c0c0"/>
<rect x="940" y="695" width="1" height="7" fill="#c0c0c0"/>
<rect x="948" y="697" width="1" height="5" fill="#c0c0c0"/>
<rect x="956" y="699" width="1" height="3" fill="#c0c0c0"/>
<rect x="964" y="698" width="1" height="4" fill="#c0c0c0"/>
<rect x="972" y="696" width="1" height="6" fill="#c0c0c0"/>
<rect x="980" y="697" width="1" height="5" fill="#c0c0c0"/>
<rect x="988" y="698" width="1" height="4" fill="#c0c0c0"/>
<rect x="996" y="698" width="1" height="4" fill="#c0c0c0"/>
<rect x="1004" y="695" width="1" height="7" fill="#c0c0c0"/>
<rect x="1012" y="694" width="1" height="8" fill="#c0c0c0"/>
<rect x="1020" y="696" width="1" height="6" fill="#c0c0c0"/>
<rect x="1028" y="696" width="1" height="6" fill="#c0c0c0"/>
<rect x="1036" y="695" width="1" height="7" fill="#c0c0c0"/>
<rect x="1044" y="697" width="1" height="5" fill="#c0c0c0"/>
<rect x="1052" y="699" width="1" height="3" fill="#c0c0c0"/>
<rect x="1084" y="701" width="1" height="1" fill="#c0c0c0"/>
<rect x="1092" y="700" width="1" height="2" fill="#c0c0c0"/>
<rect x="1108" y="700" width="1" height="2" fill="#c0c0c0"/>
<rect x="1132" y="701" width="1" height="4" fill="#c0c0c0"/>
<rect x="1140" y="701" width="1" height="3" fill="#c0c0c0"/>
<rect x="1148" y="701" width="1" height="3" fill="#c0c0c0"/>
<rect x="1172" y="700" width="1" height="2" fill="#c0c0c0"/>
<rect x="1180" y="699" width="1" height="3" fill="#c0c0c0"/>
<rect x="1196" y="701" width="1" height="3" fill="#c0c0c0"/>
<rect x="1204" y="701" width="1" height="4" fill="#c0c0c0"/>
<polyline points="4.5,694.9 12.5,694.7 20.5,694.5 28.5,694.3 36.5,694.3 44.5,694.3 52.5,694.3 60.5,694.9 68.5,695.4 76.5,695.7 84.5,696.1 92.5,696.8 100.5,697.6 108.5,698.6 116.5,699.9 124.5,700.4 132.5,700.7 140.5,701.4 148.5,702.3 156.5,703.2 164.5,704.2 172.5,704.7 180.5,705.0 188.5,705.3 196.5,705.7 204.5,706.1 212.5,706.5 220.5,706.9 228.5,707.2 236.5,707.6 244.5,708.0 252.5,709.1 260.5,710.1 268.5,710.7 276.5,711.2 284.5,712.2 292.5,712.8 300.5,713.0 308.5,713.2 316.5,712.7 324.5,712.0 332.5,711.4 340.5,710.4 348.5,709.0 356.5,708.4 364.5,708.1 372.5,707.6 380.5,706.9 388.5,706.2 396.5,705.6 404.5,703.5 412.5,702.6 420.5,701.8 428.5,701.2 436.5,700.4 444.5,699.6 452.5,698.8 460.5,697.5 468.5,696.1 476.5,694.1 484.5,693.2 492.5,692.7 500.5,692.1 508.5,691.2 516.5,689.9 524.5,689.4 532.5,689.1 540.5,689.1 548.5,689.1 556.5,689.1 564.5,689.5 572.5,690.0 580.5,690.7 588.5,691.9 596.5,692.9 604.5,693.4 612.5,693.9 620.5,694.7 628.5,695.4 636.5,695.4 644.5,695.4 652.5,695.4 660.5,694.8 668.5,694.3 676.5,693.5 684.5,692.7 692.5,692.2 700.5,691.5 708.5,690.5 716.5,689.2 724.5,687.2 732.5,685.6 740.5,683.0 748.5,679.8 756.5,677.4 764.5,672.9 772.5,668.1 780.5,663.0 788.5,657.6 796.5,652.4 804.5,649.1 812.5,645.6 820.5,642.6 828.5,640.4 836.5,639.8 844.5,641.1 852.5,643.6 860.5,646.4 868.5,649.1 876.5,653.7 884.5,657.9 892.5,661.9 900.5,665.8 908.5,669.2 916.5,671.5 924.5,674.4 932.5,678.2 940.5,680.8 948.5,684.4 956.5,687.6 964.5,690.0 972.5,691.6 980.5,693.9 988.5,695.5 996.5,696.2 1004.5,696.2 1012.5,696.2 1020.5,695.9 1028.5,695.5 1036.5,695.4 1044.5,695.4 1052.5,695.4 1060.5,695.6 1068.5,696.0 1076.5,696.8 1084.5,698.1 1092.5,698.6 1100.5,699.2 1108.5,700.0 1116.5,700.3 1124.5,700.6 1132.5,701.2 1140.5,701.4 1148.5,701.4 1156.5,701.4 1164.5,701.4 1172.5,701.4 1180.5,701.4 1188.5,701.4 1196.5,701.4 1204.5,701.4" fill="none" stroke="#ff0000" stroke-width="1" stroke-dasharray="3 3"/>
<rect x="4" y="50" width="1516" height="2" fill="#ff0000"/>
<rect x="3" y="48" width="6" height="6" fill="#ff0000"/>
<rect x="5" y="50" width="2" height="2" fill="#fff"/>
<rect x="1513" y="48" width="6" height="6" fill="#ff0000"/>
<rect x="1515" y="50" width="2" height="2" fill="#fff"/>
<rect x="4" y="129" width="1516" height="2" fill="#ff0000"/>
<rect x="3" y="127" width="6" height="6" fill="#ff0000"/>
<rect x="5" y="129" width="2" height="2" fill="#fff"/>
<rect x="1513" y="127" width="6" height="6" fill="#ff0000"/>
<rect x="1515" y="129" width="2" height="2" fill="#fff"/>
<rect x="4" y="204" width="1516" height="2" fill="#00ff00"/>
<rect x="3" y="202" width="6" height="6" fill="#00ff00"/>
<rect x="5" y="204" width="2" height="2" fill="#fff"/>
<rect x="1513" y="202" width="6" height="6" fill="#00ff00"/>
<rect x="1515" y="204" width="2" height="2" fill="#fff"/>
<rect x="4" y="274" width="1516" height="2" fill="#0000ff"/>
<rect x="3" y="272" width="6" height="6" fill="#0000ff"/>
<rect x="5" y="274" width="2" height="2" fill="#fff"/>
<rect x="1513" y="272" width="6" height="6" fill="#0000ff"/>
<rect x="1515" y="274" width="2" height="2" fill="#fff"/>
<rect x="4" y="340" width="1516" height="2" fill="#0000ff"/>
<rect x="3" y="338" width="6" height="6" fill="#0000ff"/>
<rect x="5" y="340" width="2" height="2" fill="#fff"/>
<rect x="1513" y="338" width="6" height="6" fill="#0000ff"/>
<rect x="1515" y="340" width="2" height="2" fill="#fff"/>
<rect x="4" y="422" width="1516" height="2" fill="#0000ff"/>
<rect x="3" y="420" width="6" height="6" fill="#0000ff"/>
<rect x="5" y="422" width="2" height="2" fill="#fff"/>
<rect x="1513" y="420" width="6" height="6" fill="#0000ff"/>
<rect x="1515" y="422" width="2" height="2" fill="#fff"/>
<rect x="3" y="26" width="1517" height="1" fill="#000"/>
<rect x="3" y="531" width="1517" height="1" fill="#000"/>
<rect x="3" y="26" width="1" height="506" fill="#000"/>
<rect x="1519" y="26" width="1" height="506" fill="#000"/>
<rect x="3" y="533" width="1517" height="1" fill="#000"/>
<rect x="3" y="625" width="1517" height="1" fill="#000"/>
<rect x="3" y="533" width="1" height="93" fill="#000"/>
<rect x="1519" y="533" width="1" height="93" fill="#000"/>
<rect x="3" y="627" width="1517" height="1" fill="#000"/>
<rect x="3" y="719" width="1517" height="1" fill="#000"/>
<rect x="3" y="627" width="1" height="93" fill="#000"/>
<rect x="1519" y="627" width="1" height="93" fill="#000"/>
<rect x="3" y="48" width="6" height="6" fill="#ff0000"/>
<rect x="5" y="50" width="2" height="2" fill="#fff"/>
<rect x="3" y="127" width="6" height="6" fill="#ff0000"/>
<rect x="5" y="129" width="2" height="2" fill="#fff"/>
<rect x="3" y="202" width="6" height="6" fill="#00ff00"/>
<rect x="5" y="204" width="2" height="2" fill="#fff"/>
<rect x="3" y="272" width="6" height="6" fill="#0000ff"/>
<rect x="5" y="274" width="2" height="2" fill="#fff"/>
<rect x="3" y="338" width="6" height="6" fill="#0000ff"/>
<rect x="5" y="340" width="2" height="2" fill="#fff"/>
<rect x="3" y="420" width="6" height="6" fill="#0000ff"/>
<rect x="5" y="422" width="2" height="2" fill="#fff"/>
<rect x="1520" y="33" width="2" height="1" fill="#000"/>
<rect x="1520" y="66" width="2" height="1" fill="#000"/>
<rect x="1520" y="99" width="2" height="1" fill="#000"/>
<rect x="1520" y="132" width="2" height="1" fill="#000"/>
<rect x="1520" y="165" width="2" height="1" fill="#000"/>
<rect x="1520" y="198" width="2" height="1" fill="#000"/>
<rect x="1520" y="231" width="2" height="1" fill="#000"/>
<rect x="1520" y="264" width="2" height="1" fill="#000"/>
<rect x="1520" y="297" width="2" height="1" fill="#000"/>
<rect x="1520" y="330" width="2" height="1" fill="#000"/>
<rect x="1520" y="363" width="2" height="1" fill="#000"/>
<rect x="1520" y="396" width="2" height="1" fill="#000"/>
<rect x="1520" y="429" width="2" height="1" fill="#000"/>
<rect x="1520" y="462" width="2" height="1" fill="#000"/>
<rect x="1520" y="495" width="2" height="1" fill="#000"/>
<rect x="1520" y="528" width="2" height="1" fill="#000"/>
<rect x="1520" y="701" width="2" height="1" fill="#000"/>
<rect x="1520" y="535" width="1" height="1" fill="#000"/>
<rect x="1520" y="629" width="1" height="1" fill="#000"/>
<rect x="4" y="720" width="1" height="3" fill="#000"/>
<rect x="68" y="720" width="1" height="3" fill="#000"/>
<rect x="132" y="720" width="1" height="3" fill="#000"/>
<rect x="196" y="720" width="1" height="3" fill="#000"/>
<rect x="260" y="720" width="1" height="3" fill="#000"/>
<rect x="324" y="720" width="1" height="3" fill="#000"/>
<rect x="388" y="720" width="1" height="3" fill="#000"/>
<rect x="452" y="720" width="1" height="3" fill="#000"/>
<rect x="516" y="720" width="1" height="3" fill="#000"/>
<rect x="580" y="720" width="1" height="3" fill="#000"/>
<rect x="644" y="720" width="1" height="3" fill="#000"/>
<rect x="708" y="720" width="1" height="3" fill="#000"/>
<rect x="772" y="720" width="1" height="3" fill="#000"/>
<rect x="836" y="720" width="1" height="3" fill="#000"/>
<rect x="900" y="720" width="1" height="3" fill="#000"/>
<rect x="964" y="720" width="1" height="3" fill="#000"/>
<rect x="1028" y="720" width="1" height="3" fill="#000"/>
<rect x="1092" y="720" width="1" height="3" fill="#000"/>
<rect x="1156" y="720" width="1" height="3" fill="#000"/>
<path d="M1209.5 27 L1219.5 27 L1214.5 32 Z" fill="#c0c0c0"/>
<path d="M7 33 L14 33 L10.5 37 Z" fill="#000"/>
</g>
<text x="1525.5" y="37" font-size="10" fill="#000" stroke="#000" stroke-width="0.15" textLength="32.5" lengthAdjust="spacingAndGlyphs">1.47340</text>
<text x="1525.5" y="70" font-size="10" fill="#000" stroke="#000" stroke-width="0.15" textLength="32.5" lengthAdjust="spacingAndGlyphs">1.46115</text>
<text x="1525.5" y="103" font-size="10" fill="#000" stroke="#000" stroke-width="0.15" textLength="32.5" lengthAdjust="spacingAndGlyphs">1.44890</text>
<text x="1525.5" y="136" font-size="10" fill="#000" stroke="#000" stroke-width="0.15" textLength="32.5" lengthAdjust="spacingAndGlyphs">1.43665</text>
<text x="1525.5" y="169" font-size="10" fill="#000" stroke="#000" stroke-width="0.15" textLength="32.5" lengthAdjust="spacingAndGlyphs">1.42475</text>
<text x="1525.5" y="202" font-size="10" fill="#000" stroke="#000" stroke-width="0.15" textLength="32.5" lengthAdjust="spacingAndGlyphs">1.41285</text>
<text x="1525.5" y="235" font-size="10" fill="#000" stroke="#000" stroke-width="0.15" textLength="32.5" lengthAdjust="spacingAndGlyphs">1.40060</text>
<text x="1525.5" y="268" font-size="10" fill="#000" stroke="#000" stroke-width="0.15" textLength="32.5" lengthAdjust="spacingAndGlyphs">1.38835</text>
<text x="1525.5" y="301" font-size="10" fill="#000" stroke="#000" stroke-width="0.15" textLength="32.5" lengthAdjust="spacingAndGlyphs">1.37645</text>
<text x="1525.5" y="334" font-size="10" fill="#000" stroke="#000" stroke-width="0.15" textLength="32.5" lengthAdjust="spacingAndGlyphs">1.36420</text>
<text x="1525.5" y="367" font-size="10" fill="#000" stroke="#000" stroke-width="0.15" textLength="32.5" lengthAdjust="spacingAndGlyphs">1.35230</text>
<text x="1525.5" y="400" font-size="10" fill="#000" stroke="#000" stroke-width="0.15" textLength="32.5" lengthAdjust="spacingAndGlyphs">1.34005</text>
<text x="1525.5" y="433" font-size="10" fill="#000" stroke="#000" stroke-width="0.15" textLength="32.5" lengthAdjust="spacingAndGlyphs">1.32780</text>
<text x="1525.5" y="466" font-size="10" fill="#000" stroke="#000" stroke-width="0.15" textLength="32.5" lengthAdjust="spacingAndGlyphs">1.31590</text>
<text x="1525.5" y="499" font-size="10" fill="#000" stroke="#000" stroke-width="0.15" textLength="32.5" lengthAdjust="spacingAndGlyphs">1.30365</text>
<text x="1525.5" y="532" font-size="10" fill="#000" stroke="#000" stroke-width="0.15" textLength="32.5" lengthAdjust="spacingAndGlyphs">1.29175</text>
<rect x="1521" y="45" width="41" height="11" fill="#ff0000"/>
<text x="1525.5" y="54" font-size="10" fill="#fff" stroke="#fff" stroke-width="0.15" textLength="32.5" lengthAdjust="spacingAndGlyphs">1.46651</text>
<rect x="1521" y="124" width="41" height="11" fill="#ff0000"/>
<text x="1525.5" y="133" font-size="10" fill="#fff" stroke="#fff" stroke-width="0.15" textLength="32.5" lengthAdjust="spacingAndGlyphs">1.43780</text>
<rect x="1521" y="199" width="41" height="11" fill="#00ff00"/>
<text x="1525.5" y="208" font-size="10" fill="#fff" stroke="#fff" stroke-width="0.15" textLength="32.5" lengthAdjust="spacingAndGlyphs">1.41000</text>
<rect x="1521" y="269" width="41" height="11" fill="#0000ff"/>
<text x="1525.5" y="278" font-size="10" fill="#fff" stroke="#fff" stroke-width="0.15" textLength="32.5" lengthAdjust="spacingAndGlyphs">1.38447</text>
<rect x="1521" y="335" width="41" height="11" fill="#0000ff"/>
<text x="1525.5" y="344" font-size="10" fill="#fff" stroke="#fff" stroke-width="0.15" textLength="32.5" lengthAdjust="spacingAndGlyphs">1.36029</text>
<rect x="1521" y="417" width="41" height="11" fill="#0000ff"/>
<text x="1525.5" y="426" font-size="10" fill="#fff" stroke="#fff" stroke-width="0.15" textLength="32.5" lengthAdjust="spacingAndGlyphs">1.33026</text>
<rect x="1521" y="250" width="41" height="11" fill="#000"/>
<text x="1525.5" y="259" font-size="10" fill="#fff" stroke="#fff" stroke-width="0.15" textLength="32.5" lengthAdjust="spacingAndGlyphs">1.39191</text>
<text x="1523.3" y="544" font-size="10" fill="#000" stroke="#000" stroke-width="0.15" textLength="14.7" lengthAdjust="spacingAndGlyphs">100</text>
<text x="1523" y="565" font-size="10" fill="#000" stroke="#000" stroke-width="0.15" textLength="9.8" lengthAdjust="spacingAndGlyphs">70</text>
<text x="1523" y="601" font-size="10" fill="#000" stroke="#000" stroke-width="0.15" textLength="9.8" lengthAdjust="spacingAndGlyphs">30</text>
<text x="1523.3" y="622" font-size="10" fill="#000" stroke="#000" stroke-width="0.15" textLength="4.9" lengthAdjust="spacingAndGlyphs">0</text>
<text x="1523.3" y="638" font-size="10" fill="#000" stroke="#000" stroke-width="0.15" textLength="37.3" lengthAdjust="spacingAndGlyphs">0.032493</text>
<text x="1523.3" y="705" font-size="10" fill="#000" stroke="#000" stroke-width="0.15" textLength="17.6" lengthAdjust="spacingAndGlyphs">0.00</text>
<text x="1523" y="716.5" font-size="10" fill="#000" stroke="#000" stroke-width="0.15" textLength="40.3" lengthAdjust="spacingAndGlyphs">-0.008086</text>
<text x="19.2" y="38" font-size="10" fill="#000" stroke="#000" stroke-width="0.15" textLength="65.6" lengthAdjust="spacingAndGlyphs">USDCAD,Daily</text>
<text x="91.5" y="38" font-size="10" fill="#000" stroke="#000" stroke-width="0.15" textLength="140.2" lengthAdjust="spacingAndGlyphs">1.38794 1.39596 1.38656 1.39191</text>
<text x="8.3" y="546" font-size="10" fill="#000" stroke="#000" stroke-width="0.15" textLength="67.5" lengthAdjust="spacingAndGlyphs">RSI(14) 44.0522</text>
<text x="8.6" y="640" font-size="10" fill="#000" stroke="#000" stroke-width="0.15" textLength="153.3" lengthAdjust="spacingAndGlyphs">MACD(12,26,9) -0.001735 -0.000426</text>
<text x="2.9" y="732" font-size="10" fill="#000" stroke="#000" stroke-width="0.15" textLength="54.2" lengthAdjust="spacingAndGlyphs">27 Nov 2019</text>
<text x="67.3" y="732" font-size="10" fill="#000" stroke="#000" stroke-width="0.15" textLength="46.6" lengthAdjust="spacingAndGlyphs">6 Dec 2019</text>
<text x="131.3" y="732" font-size="10" fill="#000" stroke="#000" stroke-width="0.15" textLength="51.2" lengthAdjust="spacingAndGlyphs">16 Dec 2019</text>
<text x="195.3" y="732" font-size="10" fill="#000" stroke="#000" stroke-width="0.15" textLength="51.6" lengthAdjust="spacingAndGlyphs">25 Dec 2019</text>
<text x="259.3" y="732" font-size="10" fill="#000" stroke="#000" stroke-width="0.15" textLength="44.6" lengthAdjust="spacingAndGlyphs">3 Jan 2020</text>
<text x="323.3" y="732" font-size="10" fill="#000" stroke="#000" stroke-width="0.15" textLength="49.3" lengthAdjust="spacingAndGlyphs">13 Jan 2020</text>
<text x="387.3" y="732" font-size="10" fill="#000" stroke="#000" stroke-width="0.15" textLength="49.2" lengthAdjust="spacingAndGlyphs">22 Jan 2020</text>
<text x="451.3" y="732" font-size="10" fill="#000" stroke="#000" stroke-width="0.15" textLength="49.3" lengthAdjust="spacingAndGlyphs">31 Jan 2020</text>
<text x="515.3" y="732" font-size="10" fill="#000" stroke="#000" stroke-width="0.15" textLength="50.7" lengthAdjust="spacingAndGlyphs">10 Feb 2020</text>
<text x="579.3" y="732" font-size="10" fill="#000" stroke="#000" stroke-width="0.15" textLength="50.7" lengthAdjust="spacingAndGlyphs">19 Feb 2020</text>
<text x="643.3" y="732" font-size="10" fill="#000" stroke="#000" stroke-width="0.15" textLength="51" lengthAdjust="spacingAndGlyphs">28 Feb 2020</text>
<text x="707.3" y="732" font-size="10" fill="#000" stroke="#000" stroke-width="0.15" textLength="46.8" lengthAdjust="spacingAndGlyphs">9 Mar 2020</text>
<text x="771.3" y="732" font-size="10" fill="#000" stroke="#000" stroke-width="0.15" textLength="51.4" lengthAdjust="spacingAndGlyphs">18 Mar 2020</text>
<text x="835.3" y="732" font-size="10" fill="#000" stroke="#000" stroke-width="0.15" textLength="51.2" lengthAdjust="spacingAndGlyphs">27 Mar 2020</text>
<text x="899.3" y="732" font-size="10" fill="#000" stroke="#000" stroke-width="0.15" textLength="46" lengthAdjust="spacingAndGlyphs">6 Apr 2020</text>
<text x="963.3" y="732" font-size="10" fill="#000" stroke="#000" stroke-width="0.15" textLength="50.6" lengthAdjust="spacingAndGlyphs">15 Apr 2020</text>
<text x="1027.3" y="732" font-size="10" fill="#000" stroke="#000" stroke-width="0.15" textLength="50.2" lengthAdjust="spacingAndGlyphs">24 Apr 2020</text>
<text x="1091.3" y="732" font-size="10" fill="#000" stroke="#000" stroke-width="0.15" textLength="49.8" lengthAdjust="spacingAndGlyphs">4 May 2020</text>
<text x="1155.3" y="732" font-size="10" fill="#000" stroke="#000" stroke-width="0.15" textLength="53.8" lengthAdjust="spacingAndGlyphs">13 May 2020</text>
</svg>
</body></html>
